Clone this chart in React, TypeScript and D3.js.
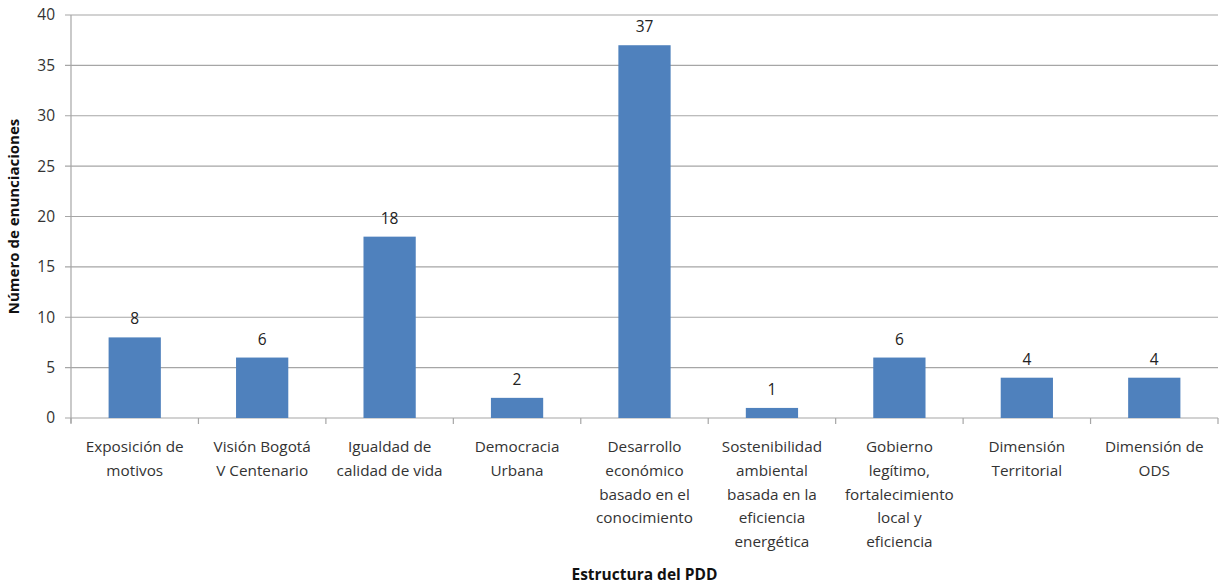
import * as d3 from 'd3';

// categories (x axis labels, already split into lines as in the chart)
const categories: string[][] = [
  ['Exposición de', 'motivos'],
  ['Visión Bogotá', 'V Centenario'],
  ['Igualdad de', 'calidad de vida'],
  ['Democracia', 'Urbana'],
  ['Desarrollo', 'económico', 'basado en el', 'conocimiento'],
  ['Sostenibilidad', 'ambiental', 'basada en la', 'eficiencia', 'energética'],
  ['Gobierno', 'legítimo,', 'fortalecimiento', 'local y', 'eficiencia'],
  ['Dimensión', 'Territorial'],
  ['Dimensión de', 'ODS'],
];
const values: number[] = [8, 6, 18, 2, 37, 1, 6, 4, 4];
const yTicks: number[] = [0, 5, 10, 15, 20, 25, 30, 35, 40];

const W = 1222;
const H = 586;
const margin = { top: 15, right: 4, bottom: 168, left: 71 };
const font = '"Open Sans", "Liberation Sans", Arial, sans-serif';

export default function App() {
  const innerW = W - margin.left - margin.right;
  const innerH = H - margin.top - margin.bottom;

  const x = d3.scaleBand<number>()
    .domain(d3.range(categories.length))
    .range([0, innerW])
    .paddingInner(0.59)
    .paddingOuter(0.295);
  const step = innerW / categories.length;
  const y = d3.scaleLinear().domain([0, 40]).range([innerH, 0]);

  return (
    <svg width={W} height={H} style={{ position: 'absolute', left: 0, top: 0, background: '#fff' }}>
      <g transform={`translate(${margin.left},${margin.top})`} fontFamily={font}>
        {/* gridlines + y ticks */}
        {yTicks.map(t => (
          <g key={t} transform={`translate(0,${y(t)})`}>
            <line x1={-6} x2={innerW} stroke="#a6a6a6" strokeWidth={1.2} />
            <text x={-16} dy="0.35em" textAnchor="end" fontSize={15.5} fill="#333">{t}</text>
          </g>
        ))}
        {/* y axis line */}
        <line x1={0} x2={0} y1={0} y2={innerH + 5} stroke="#a6a6a6" strokeWidth={1.2} />
        {/* x category ticks */}
        {d3.range(categories.length + 1).map(i => (
          <line key={i} x1={i * step} x2={i * step} y1={innerH} y2={innerH + 6} stroke="#a6a6a6" strokeWidth={1.2} />
        ))}
        {/* bars */}
        {values.map((v, i) => (
          <g key={i}>
            <rect x={x(i)} y={y(v)} width={x.bandwidth()} height={innerH - y(v)} fill="#4f81bd" />
            <text x={(x(i) ?? 0) + x.bandwidth() / 2} y={y(v) - 13} textAnchor="middle" fontSize={15.5} fill="#222">{v}</text>
          </g>
        ))}
        {/* category labels */}
        {categories.map((lines, i) => (
          <text key={i} x={i * step + step / 2} y={innerH + 34} textAnchor="middle" fontSize={15.3} fill="#333">
            {lines.map((l, j) => (
              <tspan key={j} x={i * step + step / 2} dy={j === 0 ? 0 : 23.8}>{l}</tspan>
            ))}
          </text>
        ))}
        {/* axis titles */}
        <text x={innerW / 2} y={innerH + 162} textAnchor="middle" fontSize={15.5} fontWeight="bold" fill="#111">Estructura del PDD</text>
        <text transform={`translate(${-52},${innerH / 2}) rotate(-90)`} textAnchor="middle" fontSize={15} fontWeight="bold" fill="#111">Número de enunciaciones</text>
      </g>
    </svg>
  );
}
